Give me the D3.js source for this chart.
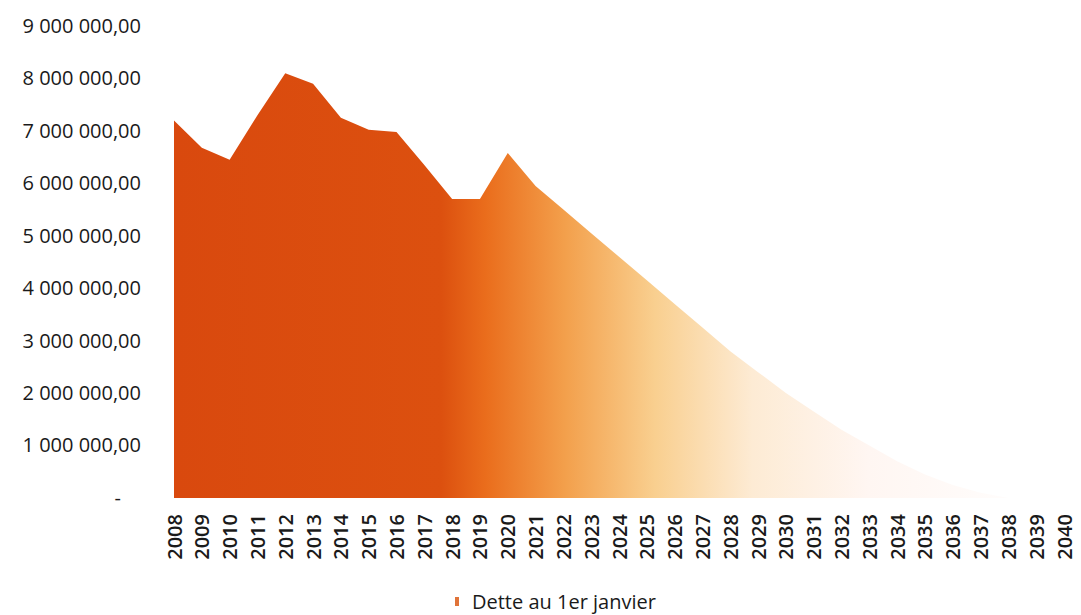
<!DOCTYPE html>
<html>
<head>
<meta charset="utf-8">
<script src="https://cdn.jsdelivr.net/npm/d3@7"></script>
<style>
  body { margin: 0; background: #fff; }
  svg { display: block; font-family: 'Open Sans', sans-serif; }
</style>
</head>
<body>
<div id="chart"></div>
<script>
// chart data
const years = ['2008', '2009', '2010', '2011', '2012', '2013', '2014', '2015', '2016', '2017', '2018',
  '2019', '2020', '2021', '2022', '2023', '2024', '2025', '2026', '2027', '2028', '2029', '2030',
  '2031', '2032', '2033', '2034', '2035', '2036', '2037', '2038', '2039', '2040'];
const dette = [7200000, 6680000, 6450000, 7300000, 8100000, 7900000, 7250000, 7020000, 6980000,
  6350000, 5700000, 5700000, 6580000, 5950000, 5500000, 5050000, 4600000, 4150000, 3700000,
  3250000, 2800000, 2400000, 2000000, 1650000, 1300000, 1000000, 700000, 450000, 250000,
  100000, 0, 0, 0];
const yTicks = [0, 1000000, 2000000, 3000000, 4000000, 5000000, 6000000, 7000000, 8000000, 9000000];
const seriesName = 'Dette au 1er janvier';

const W = 1081, H = 615;

const svg = d3.select('#chart').append('svg')
  .attr('width', W)
  .attr('height', H);

const x = d3.scalePoint()
  .domain(years)
  .range([174, 1064]);

const y = d3.scaleLinear()
  .domain([0, 9000000])
  .range([498, 26]);

// horizontal fade, dark orange to white
const grad = svg.append('defs').append('linearGradient')
  .attr('id', 'fade')
  .attr('gradientUnits', 'userSpaceOnUse')
  .attr('x1', x('2008')).attr('x2', x('2040'))
  .attr('y1', 0).attr('y2', 0);

const stops = [
  [0.00, '#d9490e'],
  [0.30, '#dc500f'],
  [0.35, '#ea6d1c'],
  [0.44, '#f3a04c'],
  [0.54, '#f9cf8f'],
  [0.65, '#fdebd4'],
  [0.78, '#fff6f2'],
  [1.00, '#ffffff']
];
grad.selectAll('stop').data(stops).enter().append('stop')
  .attr('offset', d => d[0])
  .attr('stop-color', d => d[1]);

const area = d3.area()
  .x((d, i) => x(years[i]))
  .y0(y(0))
  .y1(d => y(d));

svg.append('path')
  .datum(dette)
  .attr('fill', 'url(#fade)')
  .attr('d', area);

// y axis labels (no line, no ticks)
const fmt = v => v === 0 ? '-' : d3.format(',.2f')(v).replace(/,/g, ' ').replace('.', ',');

const yAxis = svg.append('g')
  .attr('transform', 'translate(141,0)')
  .call(d3.axisLeft(y).tickValues(yTicks).tickSize(0).tickPadding(0).tickFormat(fmt));
yAxis.select('.domain').remove();
yAxis.selectAll('text')
  .attr('font-size', 20)
  .attr('font-family', "'Open Sans', sans-serif")
  .attr('fill', '#1a1a1a')
  .attr('dx', d => d === 0 ? -20 : 0);

// x axis labels, rotated
const xAxis = svg.append('g')
  .attr('transform', `translate(0,${y(0)})`)
  .call(d3.axisBottom(x).tickSize(0).tickPadding(0));
xAxis.select('.domain').remove();
xAxis.selectAll('text')
  .attr('font-size', 20)
  .attr('font-weight', 600)
  .attr('font-family', "'Open Sans', sans-serif")
  .attr('fill', '#1a1a1a')
  .attr('text-anchor', 'end')
  .attr('transform', 'rotate(-90)')
  .attr('x', -16)
  .attr('y', 0)
  .attr('dy', '0.35em');

// legend
const legend = svg.append('g').attr('transform', 'translate(455,602)');
legend.append('rect')
  .attr('x', 0).attr('y', -5)
  .attr('width', 4).attr('height', 9)
  .attr('fill', '#e0743a');
legend.append('text')
  .attr('x', 17).attr('y', 0)
  .attr('dy', '0.35em')
  .attr('font-size', 20)
  .attr('fill', '#1a1a1a')
  .text(seriesName);
</script>
</body>
</html>
